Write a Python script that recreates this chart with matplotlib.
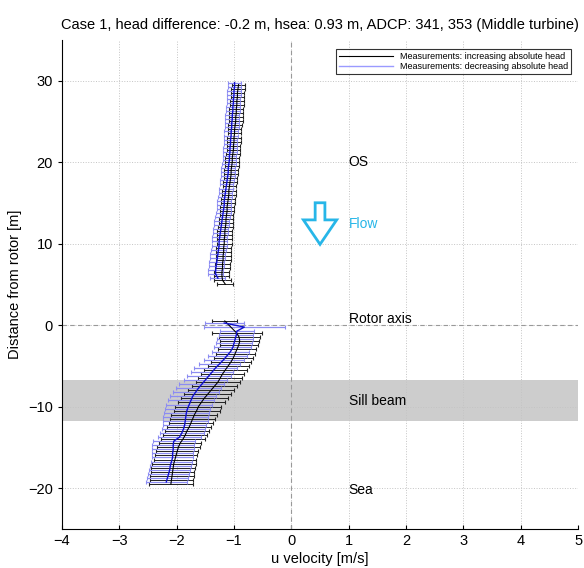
import matplotlib
matplotlib.use('Agg')
import matplotlib.pyplot as plt
from matplotlib.patches import FancyArrow
import numpy as np

plt.rcParams['font.family'] = ['Liberation Sans', 'DejaVu Sans']

# upper profile (between rotor and OS), increasing absolute head
up_y_inc = [5.0, 5.5, 6.0, 6.5, 7.0, 7.5, 8.0, 8.5, 9.0, 9.5,
            10.0, 10.5, 11.0, 11.5, 12.0, 12.5, 13.0, 13.5, 14.0, 14.5,
            15.0, 15.5, 16.0, 16.5, 17.0, 17.5, 18.0, 18.5, 19.0, 19.5,
            20.0, 20.5, 21.0, 21.5, 22.0, 22.5, 23.0, 23.5, 24.0, 24.5,
            25.0, 25.5, 26.0, 26.5, 27.0, 27.5, 28.0, 28.5, 29.0, 29.5]
up_u_inc = [-1.15, -1.20, -1.21, -1.21, -1.20, -1.20, -1.19, -1.19, -1.18, -1.18,
            -1.17, -1.17, -1.16, -1.16, -1.15, -1.14, -1.14, -1.13, -1.12, -1.12,
            -1.11, -1.10, -1.09, -1.09, -1.08, -1.07, -1.06, -1.05, -1.05, -1.04,
            -1.03, -1.03, -1.02, -1.01, -1.01, -1.00, -1.00, -0.99, -0.99, -0.98,
            -0.97, -0.97, -0.96, -0.96, -0.95, -0.95, -0.94, -0.94, -0.93, -0.92]
up_e_inc = [0.14, 0.14, 0.13, 0.13, 0.13, 0.13, 0.13, 0.13, 0.13, 0.13,
            0.13, 0.13, 0.13, 0.13, 0.13, 0.12, 0.12, 0.12, 0.12, 0.12,
            0.12, 0.12, 0.12, 0.12, 0.12, 0.12, 0.12, 0.12, 0.12, 0.12,
            0.12, 0.12, 0.12, 0.12, 0.12, 0.12, 0.12, 0.12, 0.12, 0.12,
            0.12, 0.12, 0.12, 0.12, 0.12, 0.12, 0.12, 0.12, 0.12, 0.12]

# upper profile, decreasing absolute head
up_y_dec = [5.75, 6.25, 6.75, 7.25, 7.75, 8.25, 8.75, 9.25, 9.75,
            10.25, 10.75, 11.25, 11.75, 12.25, 12.75, 13.25, 13.75, 14.25, 14.75,
            15.25, 15.75, 16.25, 16.75, 17.25, 17.75, 18.25, 18.75, 19.25, 19.75,
            20.25, 20.75, 21.25, 21.75, 22.25, 22.75, 23.25, 23.75, 24.25, 24.75,
            25.25, 25.75, 26.25, 26.75, 27.25, 27.75, 28.25, 28.75, 29.25, 29.75]
up_u_dec = [-1.28, -1.32, -1.32, -1.31, -1.30, -1.29, -1.28, -1.27, -1.26,
            -1.26, -1.25, -1.24, -1.23, -1.22, -1.21, -1.20, -1.19, -1.18, -1.17,
            -1.17, -1.16, -1.15, -1.14, -1.13, -1.12, -1.11, -1.10, -1.10, -1.09,
            -1.08, -1.08, -1.07, -1.07, -1.06, -1.06, -1.05, -1.05, -1.04, -1.04,
            -1.03, -1.03, -1.02, -1.02, -1.01, -1.01, -1.00, -1.00, -0.99, -0.99]
up_e_dec = [0.13, 0.13, 0.13, 0.13, 0.13, 0.13, 0.13, 0.13, 0.13,
            0.13, 0.13, 0.13, 0.13, 0.13, 0.13, 0.13, 0.13, 0.12, 0.12,
            0.12, 0.12, 0.12, 0.12, 0.12, 0.12, 0.12, 0.12, 0.12, 0.12,
            0.12, 0.12, 0.12, 0.12, 0.12, 0.12, 0.12, 0.12, 0.12, 0.12,
            0.12, 0.12, 0.12, 0.12, 0.12, 0.12, 0.12, 0.12, 0.12, 0.12]

# lower profile (rotor to sea), increasing absolute head
lo_y_inc = [0.5, -1.0, -1.5, -2.0, -2.5, -3.0, -3.5, -4.0, -4.5, -5.0,
            -5.5, -6.0, -6.5, -7.0, -7.5, -8.0, -8.5, -9.0, -9.5, -10.0,
            -10.5, -11.0, -11.5, -12.0, -12.5, -13.0, -13.5, -14.0, -14.5, -15.0,
            -15.5, -16.0, -16.5, -17.0, -17.5, -18.0, -18.5, -19.0, -19.5]
lo_u_inc = [-1.16, -0.95, -0.91, -0.90, -0.92, -0.95, -0.98, -1.01, -1.05, -1.10,
            -1.15, -1.20, -1.24, -1.28, -1.34, -1.40, -1.46, -1.52, -1.57, -1.62,
            -1.65, -1.69, -1.72, -1.75, -1.78, -1.82, -1.85, -1.89, -1.94, -1.97,
            -1.99, -2.01, -2.03, -2.05, -2.06, -2.07, -2.08, -2.09, -2.10]
lo_e_inc = [0.22, 0.43, 0.36, 0.34, 0.33, 0.33, 0.34, 0.34, 0.35, 0.36,
            0.37, 0.38, 0.38, 0.39, 0.40, 0.40, 0.41, 0.41, 0.41, 0.40,
            0.40, 0.40, 0.39, 0.39, 0.38, 0.38, 0.38, 0.38, 0.37, 0.37,
            0.37, 0.37, 0.37, 0.38, 0.38, 0.38, 0.38, 0.38, 0.38]

# lower profile, decreasing absolute head
lo_y_dec = [0.25, -0.25, -0.75, -1.25, -1.75, -2.25, -2.75, -3.25, -3.75, -4.25,
            -4.75, -5.25, -5.75, -6.25, -6.75, -7.25, -7.75, -8.25, -8.75, -9.25,
            -9.75, -10.25, -10.75, -11.25, -11.75, -12.25, -12.75, -13.25, -13.75, -14.25,
            -14.75, -15.25, -15.75, -16.25, -16.75, -17.25, -17.75, -18.25, -18.75, -19.25]
lo_u_dec = [-1.17, -0.82, -0.95, -0.96, -0.98, -1.00, -1.02, -1.06, -1.12, -1.18,
            -1.25, -1.32, -1.38, -1.44, -1.50, -1.56, -1.62, -1.67, -1.72, -1.75,
            -1.78, -1.81, -1.83, -1.84, -1.85, -1.86, -1.88, -1.91, -1.95, -2.05,
            -2.06, -2.06, -2.07, -2.07, -2.09, -2.11, -2.12, -2.14, -2.16, -2.18]
lo_e_dec = [0.34, 0.71, 0.30, 0.30, 0.31, 0.31, 0.32, 0.33, 0.34, 0.35,
            0.36, 0.37, 0.37, 0.38, 0.38, 0.39, 0.39, 0.40, 0.40, 0.40,
            0.40, 0.40, 0.39, 0.39, 0.39, 0.38, 0.38, 0.38, 0.37, 0.37,
            0.37, 0.37, 0.36, 0.36, 0.36, 0.36, 0.36, 0.36, 0.36, 0.36]

sill_beam = (-11.8, -6.8)
zones = [('OS', 20.0), ('Rotor axis', 0.7), ('Sill beam', -9.3), ('Sea', -20.3)]

fig = plt.figure(figsize=(5.84, 5.68), dpi=100)
ax = fig.add_axes([0.106, 0.069, 0.884, 0.861])

ax.axhspan(sill_beam[0], sill_beam[1], color='#cdcdcd', lw=0, zorder=0)

bar_blue = '#8c8cf2'
for y, u, e in [(up_y_inc, up_u_inc, up_e_inc), (lo_y_inc, lo_u_inc, lo_e_inc)]:
    ax.errorbar(u, y, xerr=e, fmt='none', ecolor='#222222', elinewidth=0.7,
                capsize=1.5, capthick=0.8, zorder=2)
for y, u, e in [(up_y_dec, up_u_dec, up_e_dec), (lo_y_dec, lo_u_dec, lo_e_dec)]:
    ax.errorbar(u, y, xerr=e, fmt='none', ecolor=bar_blue, elinewidth=0.9,
                capsize=1.5, capthick=0.8, zorder=3)

ax.plot(up_u_inc, up_y_inc, color='k', lw=0.8, zorder=4,
        label='Measurements: increasing absolute head')
ax.plot(lo_u_inc, lo_y_inc, color='k', lw=0.8, zorder=4)
ax.plot(up_u_dec, up_y_dec, color='#1010cc', lw=1.0, zorder=5)
ax.plot(lo_u_dec, lo_y_dec, color='#1010cc', lw=1.0, zorder=5)
# legend entry uses the light bar colour
ax.plot([], [], color='#9a9aff', lw=1.0, label='Measurements: decreasing absolute head')

ax.axvline(0, color='#999999', ls=(0, (4, 3)), lw=0.8, zorder=1)
ax.axhline(0, color='#999999', ls=(0, (4, 3)), lw=0.8, zorder=1)

for name, yy in zones:
    ax.text(1.0, yy, name, fontsize=10, va='center', ha='left', zorder=6)

flow_c = '#27b6e8'
ax.add_patch(FancyArrow(0.5, 15.0, 0, -5.1, width=0.17, head_width=0.58,
                        head_length=3.0, length_includes_head=True,
                        fc='white', ec=flow_c, lw=2, zorder=6))
ax.text(1.0, 12.4, 'Flow', color=flow_c, fontsize=10,
        va='center', ha='left')

ax.set_xlim(-4, 5)
ax.set_ylim(-25, 35)
ax.set_xticks(np.arange(-4, 6, 1))
ax.set_yticks(np.arange(-20, 31, 10))
ax.grid(True, color='#c4c4c4', ls=':', lw=0.7)
ax.set_axisbelow(True)
ax.spines['top'].set_visible(False)
ax.spines['right'].set_visible(False)
ax.tick_params(axis='both', labelsize=10.5, length=3)
ax.tick_params(axis='y', direction='out')
ax.tick_params(axis='x', direction='in')

ax.set_xlabel('u velocity [m/s]', fontsize=10.5, labelpad=3)
ax.set_ylabel('Distance from rotor [m]', fontsize=10.5, labelpad=4)
ax.set_title('Case 1, head difference: -0.2 m, hsea: 0.93 m, ADCP: 341, 353 (Middle turbine)',
             fontsize=10.5, pad=8)

leg = ax.legend(loc='upper right', fontsize=6.5, frameon=True, fancybox=False,
                edgecolor='k', borderpad=0.3, handlelength=6, labelspacing=0.15,
                bbox_to_anchor=(0.995, 0.99))
leg.get_frame().set_linewidth(0.8)

fig.savefig('out.png', dpi=100)
